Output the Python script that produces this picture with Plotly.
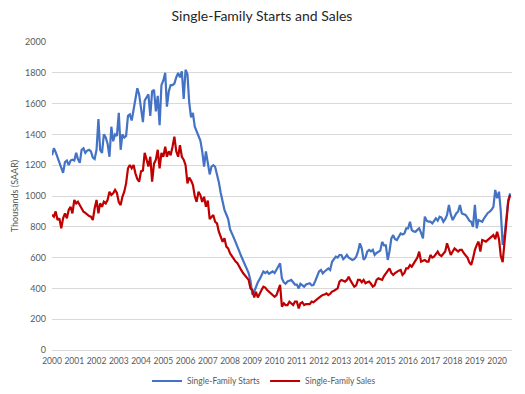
import pandas as pd
import plotly.graph_objects as go

# Monthly values, Jan 2000 - Aug 2020 (thousands, SAAR)
starts = [
    1265, 1310, 1285, 1250, 1230, 1190, 1150, 1220, 1230, 1200, 1230, 1235,  # 2000
    1230, 1280, 1240, 1215, 1300, 1310, 1280, 1295, 1300, 1290, 1250, 1240,  # 2001
    1300, 1500, 1300, 1280, 1400, 1380, 1340, 1255, 1450, 1355, 1400, 1390,  # 2002
    1540, 1300, 1400, 1380, 1390, 1520, 1530, 1490, 1560, 1620, 1700, 1660,  # 2003
    1580, 1480, 1620, 1640, 1660, 1520, 1680, 1690, 1550, 1650, 1460, 1720,  # 2004
    1750, 1800, 1580, 1680, 1720, 1720, 1730, 1770, 1800, 1770, 1810, 1630,  # 2005
    1820, 1790, 1610, 1510, 1540, 1450, 1420, 1380, 1360, 1290, 1190, 1290,  # 2006
    1210, 1140, 1190, 1200, 1190, 1140, 1090, 1020, 960, 910, 880, 850,      # 2007
    785, 760, 730, 700, 675, 640, 610, 580, 560, 530, 500, 450,              # 2008
    360, 380, 415, 440, 460, 490, 510, 500, 510, 495, 505, 510,              # 2009
    500, 520, 545, 563, 465, 440, 430, 445, 450, 455, 440, 425,              # 2010
    425, 400, 430, 420, 411, 425, 430, 433, 420, 422, 450, 476,              # 2011
    510, 520, 498, 510, 520, 530, 520, 573, 590, 606, 600, 617,              # 2012
    617, 590, 600, 617, 600, 595, 585, 590, 606, 640, 693, 660,              # 2013
    585, 600, 639, 650, 640, 650, 617, 630, 639, 645, 702, 680,              # 2014
    680, 585, 640, 725, 746, 720, 714, 740, 757, 750, 757, 790,              # 2015
    790, 833, 779, 770, 768, 780, 790, 760, 725, 866, 840, 833,              # 2016
    833, 822, 840, 855, 840, 866, 860, 833, 850, 877, 942, 880,              # 2017
    844, 870, 887, 900, 942, 887, 880, 877, 860, 840, 833, 800,              # 2018
    942, 790, 844, 840, 833, 855, 877, 890, 898, 910, 930, 1039,             # 2019
    985, 1028, 900, 682, 740, 877, 970, 1017,                                # 2020
]

sales = [
    878, 866, 900, 844, 855, 790, 855, 887, 855, 909, 930, 887,              # 2000
    974, 952, 963, 941, 920, 898, 890, 877, 870, 866, 844, 920,              # 2001
    974, 887, 952, 930, 963, 952, 974, 1028, 1006, 1017, 1039, 1020,         # 2002
    960, 941, 995, 1028, 1082, 1180, 1201, 1180, 1201, 1147, 1110, 1093,     # 2003
    1160, 1165, 1280, 1236, 1192, 1255, 1093, 1210, 1236, 1300, 1180, 1280,  # 2004
    1255, 1320, 1255, 1290, 1265, 1320, 1385, 1290, 1255, 1330, 1255, 1236,  # 2005
    1200, 1082, 1120, 1100, 1072, 1000, 962, 1028, 1006, 962, 995, 930,      # 2006
    970, 850, 866, 876, 833, 822, 768, 736, 703, 725, 671, 660,              # 2007
    628, 610, 590, 574, 563, 545, 520, 500, 487, 470, 455, 400,              # 2008
    390, 341, 378, 341, 370, 390, 411, 405, 390, 380, 368, 357,              # 2009
    346, 357, 390, 423, 281, 303, 292, 292, 314, 300, 292, 314,              # 2010
    314, 270, 303, 310, 292, 298, 300, 298, 314, 310, 320, 330,              # 2011
    346, 350, 357, 360, 368, 357, 365, 379, 385, 390, 400, 444,              # 2012
    455, 450, 444, 455, 476, 450, 433, 411, 420, 455, 455, 440,              # 2013
    455, 433, 440, 444, 430, 411, 420, 455, 465, 460, 455, 480,              # 2014
    498, 520, 530, 500, 487, 500, 509, 515, 520, 487, 500, 530,              # 2015
    530, 552, 541, 560, 585, 600, 639, 574, 580, 585, 574, 574,              # 2016
    617, 600, 606, 620, 639, 617, 610, 625, 639, 693, 650, 617,              # 2017
    640, 660, 650, 639, 650, 650, 630, 617, 600, 570, 552, 595,              # 2018
    650, 682, 704, 639, 714, 710, 704, 715, 725, 735, 746, 720,              # 2019
    768, 720, 610, 570, 700, 854, 963, 1006,                                 # 2020
]

months = pd.date_range("2000-01-01", periods=len(starts), freq="MS")

series_names = ["Single-Family Starts", "Single-Family Sales"]
series_colors = ["#4472C4", "#C00000"]

FONT = "Lato"
# the page body has an 8px default margin, so the figure is sized to fit
W, H = 517, 386

fig = go.Figure()
for name, vals, col in zip(series_names, [starts, sales], series_colors):
    fig.add_trace(go.Scatter(
        x=months, y=vals, mode="lines", name=name,
        line=dict(color=col, width=2.2),
    ))

fig.update_layout(
    width=W, height=H,
    margin=dict(l=44, r=13, t=34, b=44, autoexpand=False),
    paper_bgcolor="white", plot_bgcolor="white",
    font=dict(family=FONT, color="#595959", size=9),
    title=dict(text="Single-Family Starts and Sales", x=254 / W, xanchor="center",
               y=1 - 8 / H, yanchor="middle",
               font=dict(family=FONT, size=14, color="#262626")),
    showlegend=True,
    legend=dict(orientation="h", xref="container", yref="container",
                x=256 / W, xanchor="center", y=13 / H, yanchor="middle",
                font=dict(family=FONT, size=8.5, color="#595959"),
                itemwidth=30, tracegroupgap=0),
)

fig.update_xaxes(
    type="date", range=["2000-01-01", "2020-09-01"],
    tick0="2000-01-01", dtick="M12", tickformat="%Y", tickangle=0,
    showgrid=False, showline=False, zeroline=False, ticks="", automargin=False,
    ticklabelstandoff=4,
    tickfont=dict(family=FONT, size=8.5, color="#595959"),
)
fig.update_yaxes(
    range=[0, 2000], dtick=200, showgrid=True, gridcolor="#d9d9d9", gridwidth=1,
    zeroline=True, zerolinecolor="#d9d9d9", zerolinewidth=1, showline=False, ticks="",
    automargin=False, ticklabelstandoff=5,
    tickfont=dict(family=FONT, size=9, color="#595959"),
    title=dict(text="Thousands (SAAR)", standoff=4,
               font=dict(family=FONT, size=9, color="#595959")),
)

fig.write_html("out.html")
